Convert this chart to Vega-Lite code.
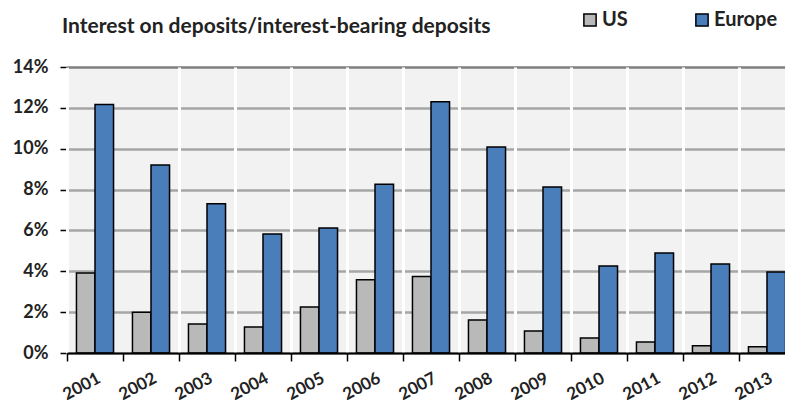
{
  "$schema": "https://vega.github.io/schema/vega-lite/v6.json",
  "width": 728,
  "height": 286,
  "autosize": "none",
  "padding": {"left": 67, "top": 67, "right": 0, "bottom": 50},
  "background": "white",
  "title": {
    "text": "Interest on deposits/interest-bearing deposits",
    "anchor": "start",
    "frame": "group",
    "dx": -5,
    "offset": -27,
    "font": "Lato",
    "fontSize": 21,
    "fontWeight": "bold",
    "color": "#222222"
  },
  "data": {
    "values": [
      {"year": "2001", "region": "US", "rate": 3.92},
      {"year": "2001", "region": "Europe", "rate": 12.17},
      {"year": "2002", "region": "US", "rate": 2.0},
      {"year": "2002", "region": "Europe", "rate": 9.2},
      {"year": "2003", "region": "US", "rate": 1.42},
      {"year": "2003", "region": "Europe", "rate": 7.3},
      {"year": "2004", "region": "US", "rate": 1.27},
      {"year": "2004", "region": "Europe", "rate": 5.82},
      {"year": "2005", "region": "US", "rate": 2.25},
      {"year": "2005", "region": "Europe", "rate": 6.12},
      {"year": "2006", "region": "US", "rate": 3.58},
      {"year": "2006", "region": "Europe", "rate": 8.26},
      {"year": "2007", "region": "US", "rate": 3.74},
      {"year": "2007", "region": "Europe", "rate": 12.3},
      {"year": "2008", "region": "US", "rate": 1.62},
      {"year": "2008", "region": "Europe", "rate": 10.08},
      {"year": "2009", "region": "US", "rate": 1.08},
      {"year": "2009", "region": "Europe", "rate": 8.12},
      {"year": "2010", "region": "US", "rate": 0.73},
      {"year": "2010", "region": "Europe", "rate": 4.26},
      {"year": "2011", "region": "US", "rate": 0.54},
      {"year": "2011", "region": "Europe", "rate": 4.89},
      {"year": "2012", "region": "US", "rate": 0.35},
      {"year": "2012", "region": "Europe", "rate": 4.36},
      {"year": "2013", "region": "US", "rate": 0.3},
      {"year": "2013", "region": "Europe", "rate": 3.97}
    ]
  },
  "mark": {"type": "bar", "stroke": "black", "strokeWidth": 1.5},
  "encoding": {
    "x": {
      "field": "year",
      "type": "nominal",
      "scale": {"paddingInner": 0, "paddingOuter": 0},
      "axis": {
        "title": null,
        "labelAngle": -28,
        "labelFont": "Lato",
        "labelFontSize": 17,
        "labelFontWeight": "bold",
        "labelColor": "#222222",
        "labelPadding": 9,
        "tickBand": "extent",
        "tickSize": 8,
        "tickColor": "black",
        "tickWidth": 1.5,
        "domainColor": "black",
        "domainWidth": 2,
        "grid": true,
        "gridColor": "white",
        "gridWidth": 3,
        "gridOpacity": {"condition": {"test": "datum.value == '2001'", "value": 0}, "value": 1},
        "zindex": 1
      }
    },
    "xOffset": {
      "field": "region",
      "type": "nominal",
      "sort": ["US", "Europe"],
      "scale": {"paddingInner": 0, "paddingOuter": 0.51}
    },
    "y": {
      "field": "rate",
      "type": "quantitative",
      "scale": {"domain": [0, 14]},
      "axis": {
        "title": null,
        "values": [0, 2, 4, 6, 8, 10, 12, 14],
        "labelExpr": "datum.value + '%'",
        "labelFont": "Lato",
        "labelFontSize": 18,
        "labelFontWeight": "bold",
        "labelColor": "#222222",
        "labelPadding": 12,
        "tickSize": 7,
        "tickColor": "black",
        "tickWidth": 1.5,
        "domainColor": "black",
        "domainWidth": 2,
        "grid": true,
        "gridColor": {"condition": {"test": "datum.value >= 14", "value": "#7f7f7f"}, "value": "#a6a6a6"},
        "gridWidth": 2.5
      }
    },
    "color": {
      "field": "region",
      "type": "nominal",
      "sort": ["US", "Europe"],
      "scale": {"domain": ["US", "Europe"], "range": ["#b9b9b9", "#4a7ebb"]},
      "legend": {
        "title": null,
        "orient": "none",
        "legendX": 513,
        "legendY": -57,
        "direction": "horizontal",
        "symbolType": "square",
        "symbolSize": 150,
        "symbolStrokeColor": "black",
        "symbolStrokeWidth": 1.5,
        "labelFont": "Lato",
        "labelFontSize": 20,
        "labelFontWeight": "bold",
        "labelColor": "#222222",
        "labelOffset": 2,
        "columnPadding": 64
      }
    }
  },
  "config": {"view": {"fill": "#f2f2f2", "stroke": null}}
}
